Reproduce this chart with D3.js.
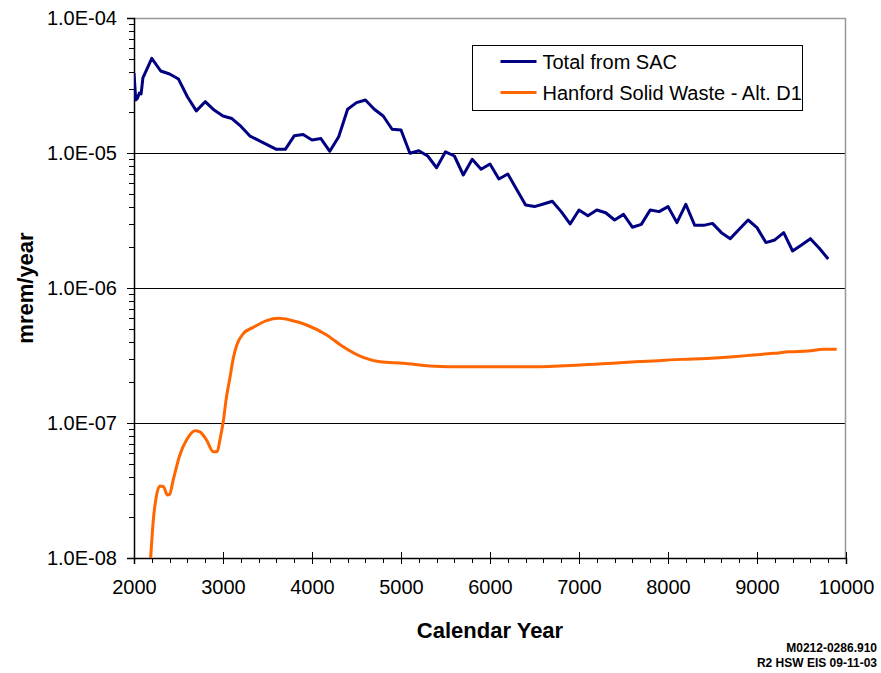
<!DOCTYPE html>
<html>
<head>
  <meta charset="utf-8">
  <title>Dose over time</title>
  <script src="https://cdn.jsdelivr.net/npm/d3@7/dist/d3.min.js"></script>
  <style>
    body { margin: 0; background: #fff; }
    svg { display: block; font-family: "Liberation Sans", Arial, sans-serif; }
  </style>
</head>
<body>
  <svg width="881" height="673"></svg>

  <script>
    // Total from SAC (year, mrem/year)
    const sacYears = [2000, 2020, 2040, 2060, 2080, 2100, 2200, 2300, 2400, 2500, 2600, 2700, 2800, 2900,
      3000, 3100, 3200, 3300, 3400, 3500, 3600, 3700, 3800, 3900, 4000, 4100, 4200, 4300, 4400, 4500,
      4600, 4700, 4800, 4900, 5000, 5100, 5200, 5300, 5400, 5500, 5600, 5700, 5800, 5900, 6000, 6100,
      6200, 6300, 6400, 6500, 6600, 6700, 6800, 6900, 7000, 7100, 7200, 7300, 7400, 7500, 7600, 7700,
      7800, 7900, 8000, 8100, 8200, 8300, 8400, 8500, 8600, 8700, 8800, 8900, 9000, 9100, 9200, 9300,
      9400, 9500, 9600, 9700, 9800];
    const sacDose = [3.9e-5, 2.47e-5, 2.55e-5, 2.78e-5, 2.74e-5, 3.6e-5, 5.03e-5, 4.05e-5, 3.85e-5, 3.53e-5,
      2.61e-5, 2.05e-5, 2.4e-5, 2.08e-5, 1.88e-5, 1.8e-5, 1.58e-5, 1.34e-5, 1.24e-5, 1.15e-5, 1.065e-5,
      1.065e-5, 1.34e-5, 1.37e-5, 1.25e-5, 1.28e-5, 1.03e-5, 1.32e-5, 2.11e-5, 2.36e-5, 2.47e-5, 2.11e-5,
      1.88e-5, 1.5e-5, 1.48e-5, 9.95e-6, 1.04e-5, 9.5e-6, 7.78e-6, 1.02e-5, 9.5e-6, 6.87e-6, 8.98e-6,
      7.57e-6, 8.29e-6, 6.42e-6, 6.99e-6, 5.36e-6, 4.12e-6, 4.01e-6, 4.19e-6, 4.39e-6, 3.68e-6, 2.98e-6,
      3.78e-6, 3.43e-6, 3.78e-6, 3.61e-6, 3.19e-6, 3.51e-6, 2.82e-6, 2.96e-6, 3.78e-6, 3.68e-6, 4.01e-6,
      3.05e-6, 4.17e-6, 2.91e-6, 2.91e-6, 3.01e-6, 2.57e-6, 2.32e-6, 2.72e-6, 3.19e-6, 2.8e-6, 2.17e-6,
      2.27e-6, 2.57e-6, 1.88e-6, 2.08e-6, 2.32e-6, 1.97e-6, 1.64e-6];

    // Hanford Solid Waste - Alt. D1
    const hswYears = [2185, 2217, 2244, 2290, 2330, 2375, 2400, 2440, 2515, 2590, 2685, 2740, 2815, 2890,
      2935, 2965, 3000, 3040, 3080, 3115, 3155, 3230, 3340, 3490, 3620, 3750, 3940, 4165, 4350, 4575,
      4765, 5025, 5325, 5550, 6490, 7010, 7460, 7835, 8135, 8435, 8735, 8960, 9185, 9370, 9575, 9745, 9895];
    const hswDose = [9.5e-9, 1.91e-8, 2.69e-8, 3.41e-8, 3.39e-8, 2.93e-8, 2.96e-8, 3.78e-8, 5.8e-8, 7.48e-8,
      8.77e-8, 8.6e-8, 7.48e-8, 6.13e-8, 6.13e-8, 7.48e-8, 9.95e-8, 1.57e-7, 2.2e-7, 3.01e-7, 3.78e-7,
      4.61e-7, 5.11e-7, 5.73e-7, 5.96e-7, 5.8e-7, 5.32e-7, 4.49e-7, 3.67e-7, 3.06e-7, 2.84e-7, 2.77e-7,
      2.64e-7, 2.61e-7, 2.61e-7, 2.69e-7, 2.8e-7, 2.88e-7, 2.96e-7, 3.01e-7, 3.1e-7, 3.19e-7, 3.28e-7,
      3.37e-7, 3.41e-7, 3.52e-7, 3.52e-7];

    const seriesNames = ["Total from SAC", "Hanford Solid Waste - Alt. D1"];
    const seriesColors = ["#000080", "#ff6600"];
    const yTicks = [1e-4, 1e-5, 1e-6, 1e-7, 1e-8];
    const xTicks = [2000, 3000, 4000, 5000, 6000, 7000, 8000, 9000, 10000];

    const svg = d3.select("svg");
    const margin = { top: 18, right: 35, bottom: 115, left: 134 };
    const width = +svg.attr("width") - margin.left - margin.right;
    const height = +svg.attr("height") - margin.top - margin.bottom;

    const x = d3.scaleLinear().domain([2000, 10000]).range([0, width]);
    const y = d3.scaleLog().domain([1e-8, 1e-4]).range([height, 0]);

    const g = svg.append("g").attr("transform", `translate(${margin.left},${margin.top})`);

    g.append("rect").attr("width", width).attr("height", height).attr("fill", "#fff");

    // gridlines at each decade
    g.selectAll("line.grid")
      .data(yTicks.slice(1, -1))
      .enter().append("line")
      .attr("x1", 0).attr("x2", width)
      .attr("y1", d => Math.round(y(d)) + 0.5).attr("y2", d => Math.round(y(d)) + 0.5)
      .attr("stroke", "#000").attr("stroke-width", 1)
      .attr("shape-rendering", "crispEdges");

    // top + right border
    g.append("path")
      .attr("d", `M0,0.5H${width - 0.5}V${height}`)
      .attr("fill", "none").attr("stroke", "#999").attr("stroke-width", 1.5);

    // minor y ticks
    const yMinor = [];
    for (let e = -8; e < -4; e++) for (let k = 2; k <= 9; k++) yMinor.push(k * Math.pow(10, e));
    g.selectAll("line.ymin")
      .data(yMinor)
      .enter().append("line")
      .attr("x1", -5).attr("x2", 0)
      .attr("y1", d => Math.round(y(d)) + 0.5).attr("y2", d => Math.round(y(d)) + 0.5)
      .attr("stroke", "#000").attr("shape-rendering", "crispEdges");

    // y axis
    const yAxis = g.append("g")
      .call(d3.axisLeft(y).tickValues(yTicks).tickSize(7).tickPadding(10)
        .tickFormat(d => "1.0E-" + String(-Math.round(Math.log10(d))).padStart(2, "0")));
    yAxis.select(".domain").attr("stroke", "#000").attr("stroke-width", 1.5);
    yAxis.selectAll(".tick line").attr("stroke", "#000").attr("shape-rendering", "crispEdges");
    yAxis.selectAll("text").attr("font-size", 20).attr("fill", "#000")
      .attr("font-family", "Liberation Sans, Arial, sans-serif");

    // minor x ticks
    const xMinor = d3.range(2200, 10000, 200).filter(v => v % 1000 !== 0);
    g.selectAll("line.xmin")
      .data(xMinor)
      .enter().append("line")
      .attr("x1", d => Math.round(x(d)) + 0.5).attr("x2", d => Math.round(x(d)) + 0.5)
      .attr("y1", height).attr("y2", height + 5)
      .attr("stroke", "#000").attr("shape-rendering", "crispEdges");

    // x axis
    const xAxis = g.append("g")
      .attr("transform", `translate(0,${height})`)
      .call(d3.axisBottom(x).tickValues(xTicks).tickSize(6).tickPadding(16).tickFormat(d3.format("d")));
    xAxis.select(".domain").attr("stroke", "#000").attr("stroke-width", 1.5);
    xAxis.selectAll(".tick line").attr("y1", -6).attr("stroke", "#000").attr("shape-rendering", "crispEdges");
    xAxis.selectAll("text").attr("font-size", 20).attr("fill", "#000")
      .attr("font-family", "Liberation Sans, Arial, sans-serif");

    // clip the lines to the plot area
    svg.append("defs").append("clipPath").attr("id", "plot-clip")
      .append("rect").attr("width", width).attr("height", height);

    const lines = [
      sacYears.map((yr, i) => ({ x: yr, y: sacDose[i] })),
      hswYears.map((yr, i) => ({ x: yr, y: hswDose[i] }))
    ];

    const lineSac = d3.line().x(d => x(d.x)).y(d => y(d.y));
    const lineHsw = d3.line().x(d => x(d.x)).y(d => y(d.y)).curve(d3.curveMonotoneX);

    g.append("g").attr("clip-path", "url(#plot-clip)")
      .selectAll("path.line")
      .data(lines)
      .enter().append("path")
      .attr("class", "line")
      .attr("fill", "none")
      .attr("stroke", (d, i) => seriesColors[i])
      .attr("stroke-width", 3)
      .attr("stroke-linejoin", "round")
      .attr("d", (d, i) => i === 0 ? lineSac(d) : lineHsw(d));

    // legend
    const leg = svg.append("g").attr("transform", "translate(472.5,45.5)");
    leg.append("rect").attr("width", 330).attr("height", 65)
      .attr("fill", "#fff").attr("stroke", "#000").attr("stroke-width", 1);
    seriesNames.forEach((name, i) => {
      const yy = 16 + i * 31;
      leg.append("line").attr("x1", 28).attr("x2", 64).attr("y1", yy).attr("y2", yy)
        .attr("stroke", seriesColors[i]).attr("stroke-width", 3);
      leg.append("text").attr("x", 70).attr("y", yy + 7)
        .attr("font-size", 20).attr("fill", "#000").text(name);
    });

    // axis titles
    svg.append("text")
      .attr("x", margin.left + width / 2).attr("y", 638)
      .attr("text-anchor", "middle").attr("font-size", 22).attr("font-weight", "bold")
      .text("Calendar Year");
    svg.append("text")
      .attr("transform", `translate(33,${margin.top + height / 2}) rotate(-90)`)
      .attr("text-anchor", "middle").attr("font-size", 22).attr("font-weight", "bold")
      .text("mrem/year");

    // figure id
    svg.append("text").attr("x", 877).attr("y", 652).attr("text-anchor", "end")
      .attr("font-size", 12).attr("font-weight", "bold").text("M0212-0286.910");
    svg.append("text").attr("x", 877).attr("y", 667).attr("text-anchor", "end")
      .attr("font-size", 12).attr("font-weight", "bold").text("R2 HSW EIS 09-11-03");
  </script>
</body>
</html>
